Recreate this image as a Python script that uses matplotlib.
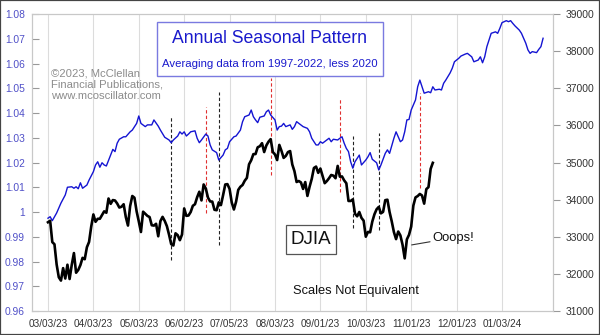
import matplotlib
matplotlib.use('Agg')
import matplotlib.pyplot as plt
from matplotlib.patches import Rectangle
import numpy as np

plt.rcParams['font.family'] = ['Liberation Sans', 'DejaVu Sans']

# x axis is trading days counted from 03/03/23
x_tick_days = [0, 21, 42, 63, 84, 105, 126, 147, 168, 189, 210]
x_labels = ['03/03/23', '04/03/23', '05/03/23', '06/02/23', '07/05/23', '08/03/23',
            '09/01/23', '10/03/23', '11/01/23', '12/01/23', '01/03/24']

# seasonal pattern (left scale)
blue_day = [0, 1, 2, 4, 6, 8, 9, 11, 12, 13, 14, 15, 16, 18, 19,
            21, 22, 23, 24, 25, 26, 27, 29, 30, 31, 32, 33, 35, 36, 38, 39,
            41, 42, 43, 45, 46, 48, 49, 51, 52, 54, 56, 57, 58, 60,
            61, 62, 63, 64, 65, 66, 68, 69, 70, 71, 73, 74, 75, 76, 78, 79,
            81, 82, 83, 84, 86, 87, 89, 90, 91, 93, 94, 95, 96, 97, 98, 100,
            101, 102, 103, 105, 106, 107, 108, 109, 110, 112, 113, 114, 115, 117, 118, 120,
            121, 122, 124, 125, 126, 127, 129, 130, 131, 132, 134, 135, 136, 137, 138, 139, 140,
            141, 142, 144, 145, 147, 148, 149, 150, 152, 153, 154, 156, 157, 158, 159, 160,
            161, 162, 163, 164, 165, 166, 167, 168, 170, 171, 172, 173, 174, 176, 177, 178, 179,
            181, 182, 183, 184, 186, 187, 188, 190, 191, 193, 194, 196, 197, 199, 200,
            201, 202, 203, 204, 205, 207, 208, 209, 210, 212, 213, 214, 215, 216, 218, 219, 220,
            221, 222, 223, 224, 226, 227, 228, 229]
blue_val = [0.9975, 0.9981, 0.9965, 0.9996, 1.0036, 1.0069, 1.0100, 1.0102, 1.0096, 1.0102, 1.0094, 1.0118, 1.0096, 1.0109, 1.0129,
            1.0163, 1.0190, 1.0203, 1.0181, 1.0199, 1.0190, 1.0186, 1.0230, 1.0253, 1.0244, 1.0278, 1.0294, 1.0304, 1.0304, 1.0324, 1.0331,
            1.0358, 1.0388, 1.0358, 1.0345, 1.0352, 1.0352, 1.0372, 1.0347, 1.0331, 1.0302, 1.0291, 1.0280, 1.0291, 1.0307,
            1.0324, 1.0315, 1.0324, 1.0307, 1.0315, 1.0324, 1.0328, 1.0298, 1.0280, 1.0291, 1.0315, 1.0307, 1.0271, 1.0251, 1.0240, 1.0210,
            1.0230, 1.0251, 1.0257, 1.0284, 1.0304, 1.0307, 1.0331, 1.0365, 1.0385, 1.0392, 1.0412, 1.0385, 1.0372, 1.0361, 1.0383, 1.0388,
            1.0405, 1.0412, 1.0392, 1.0372, 1.0331, 1.0345, 1.0347, 1.0358, 1.0345, 1.0352, 1.0334, 1.0345, 1.0365, 1.0352, 1.0345, 1.0338,
            1.0324, 1.0298, 1.0271, 1.0271, 1.0284, 1.0278, 1.0291, 1.0298, 1.0284, 1.0294, 1.0291, 1.0298, 1.0304, 1.0278, 1.0257, 1.0244, 1.0203,
            1.0177, 1.0203, 1.0230, 1.0190, 1.0210, 1.0223, 1.0240, 1.0213, 1.0199, 1.0170, 1.0190, 1.0237, 1.0251, 1.0237, 1.0267, 1.0298,
            1.0324, 1.0304, 1.0284, 1.0291, 1.0324, 1.0372, 1.0374, 1.0412, 1.0453, 1.0506, 1.0533, 1.0506, 1.0480, 1.0486, 1.0482, 1.0506, 1.0493,
            1.0496, 1.0493, 1.0520, 1.0533, 1.0562, 1.0581, 1.0607, 1.0621, 1.0630, 1.0638, 1.0641, 1.0627, 1.0607, 1.0614, 1.0627,
            1.0603, 1.0627, 1.0668, 1.0695, 1.0722, 1.0728, 1.0722, 1.0742, 1.0765, 1.0773, 1.0769, 1.0773, 1.0762, 1.0752, 1.0735, 1.0722, 1.0702,
            1.0682, 1.0655, 1.0641, 1.0648, 1.0644, 1.0657, 1.0668, 1.0702]

# DJIA daily closes from 03/03/23 (right scale)
dow_close = [33391, 33431, 32856, 32798, 32254, 31910, 31819, 32155, 31875, 32247,
             31862, 32245, 32561, 32031, 32106, 32238, 32432, 32395, 32718, 32860,
             33274, 33601, 33403, 33483, 33485, 33587, 33685, 33647, 34030, 33887,
             33988, 33977, 33897, 33787, 33809, 33876, 33531, 33302, 33827, 34098,
             34051, 33684, 33414, 33128, 33675, 33619, 33562, 33531, 33310, 33301,
             33349, 33013, 33421, 33536, 33427, 33286, 33056, 32800, 32765, 33093,
             33043, 32908, 33061, 33763, 33563, 33573, 33666, 33834, 33877, 34066,
             34212, 33979, 34408, 34299, 34054, 33952, 33947, 33727, 33715, 33927,
             33853, 34122, 34408, 34418, 34288, 33922, 33735, 33944, 34262, 34347,
             34395, 34509, 34586, 34952, 35061, 35225, 35228, 35411, 35438, 35520,
             35282, 35459, 35560, 35630, 35283, 35216, 35066, 35474, 35314, 35124,
             35177, 35281, 35308, 34947, 34766, 34475, 34501, 34464, 34288, 34473,
             34100, 34347, 34559, 34852, 34890, 34722, 34838, 34642, 34443, 34501,
             34577, 34664, 34646, 34576, 34908, 34618, 34625, 34518, 34441, 33964,
             33964, 34007, 33619, 33551, 33667, 33508, 33433, 33002, 33130, 33120,
             33408, 33605, 33740, 33804, 33631, 33670, 33985, 33998, 33666, 33415,
             33127, 32937, 33141, 33036, 32785, 32418, 32929, 33053, 33275, 33840,
             34061, 34096, 34153, 34112, 33892, 34283, 34337, 34828, 34991]

# dashed markers at seasonal lows (black) and highs (red), left scale
low_day = [57, 79, 141, 153]
low_top = [1.0384, 1.0485, 1.0307, 1.0319]
low_bot = [0.9806, 0.9867, 0.9935, 0.9927]
high_day = [73, 103, 135, 172]
high_top = [1.0424, 1.0541, 1.0461, 1.0481]
high_bot = [0.9996, 1.0149, 1.0081, 1.0097]

left_ticks = [0.96, 0.97, 0.98, 0.99, 1.0, 1.01, 1.02, 1.03, 1.04, 1.05, 1.06, 1.07, 1.08]
left_labels = ['0.96', '0.97', '0.98', '0.99', '1', '1.01', '1.02', '1.03', '1.04', '1.05', '1.06', '1.07', '1.08']
right_ticks = [31000, 32000, 33000, 34000, 35000, 36000, 37000, 38000, 39000]

fig = plt.figure(figsize=(6, 3.35), dpi=100, facecolor='white')
ax = fig.add_axes([0.0533, 0.0716, 0.8684, 0.8866])
ax2 = ax.twinx()

frame = '#c8c8c8'
for a in (ax, ax2):
    for s in a.spines.values():
        s.set_color(frame)
        s.set_linewidth(0.8)

ax.set_xlim(-7.4, 233.6)
ax.set_ylim(0.96, 1.08)
ax2.set_ylim(31000, 39000)

ax.set_xticks(x_tick_days)
ax.set_xticklabels(x_labels, fontsize=7.2, color='#333333')
ax.tick_params(axis='x', length=0, pad=6)
ax.grid(axis='x', color='#dcdcdc', linewidth=0.8)
ax.set_axisbelow(True)

ax.set_yticks(left_ticks)
ax.set_yticklabels(left_labels, fontsize=7.4, color='#5050c8')
ax.tick_params(axis='y', direction='in', length=5, color='#999999', pad=5)

ax2.set_yticks(right_ticks)
ax2.set_yticklabels([str(t) for t in right_ticks], fontsize=7.4, color='#333333')
ax2.tick_params(axis='y', direction='out', length=5, color='#999999', pad=4)

ax.vlines(low_day, low_bot, low_top, colors='#222222', linestyles=(0, (3, 2)), linewidth=0.8)
ax.vlines(high_day, high_bot, high_top, colors='#e03030', linestyles=(0, (3, 2)), linewidth=0.8)

ax.plot(blue_day, blue_val, color='#1414d2', linewidth=1.0)
ax2.plot(np.arange(len(dow_close)), dow_close, color='black', linewidth=1.9)

# title box
fig.add_artist(Rectangle((0.2622, 0.7731), 0.3767, 0.1621, transform=fig.transFigure,
                         fill=True, facecolor='white', edgecolor='#7a7ae0', linewidth=1.0))
fig.text(0.45, 0.8725, 'Annual Seasonal Pattern', ha='center', va='baseline',
         fontsize=12.7, color='#1a1acc')
fig.text(0.45, 0.801, 'Averaging data from 1997-2022, less 2020', ha='center', va='baseline',
         fontsize=8.2, color='#1a1acc')

fig.text(0.085, 0.797, '\u00a92023, McClellan\nFinancial Publications,\nwww.mcoscillator.com',
         ha='left', va='top', fontsize=8.1, color='#8c8c8c', linespacing=1.2)

# DJIA label box
fig.add_artist(Rectangle((286 / 600, 1 - 254 / 335), 50 / 600, 29 / 335, transform=fig.transFigure,
                         fill=True, facecolor='white', edgecolor='#555555', linewidth=0.9))
fig.text(311 / 600, 1 - 239.5 / 335, 'DJIA', ha='center', va='center', fontsize=13.5, color='#111111')

ax2.annotate('Ooops!', xy=(168.2, 32780), xytext=(178, 32975), ha='left', va='center',
             fontsize=9.4, color='#111111',
             arrowprops=dict(arrowstyle='-', color='#333333', lw=0.8, shrinkA=0, shrinkB=0))

fig.text(0.5933, 0.1322, 'Scales Not Equivalent', ha='center', va='center', fontsize=9.3, color='#111111')

fig.add_artist(Rectangle((0, 0), 1, 1, transform=fig.transFigure, fill=False,
                         edgecolor='#444444', linewidth=1.6))

plt.savefig('out.png', dpi=100, facecolor='white')
